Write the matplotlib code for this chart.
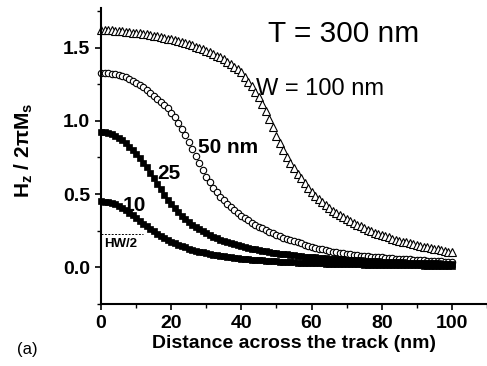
import numpy as np
import matplotlib
matplotlib.use('Agg')
import matplotlib.pyplot as plt

plt.rcParams['font.family'] = ['Liberation Sans', 'DejaVu Sans']

# distance across the track (nm), one point per nm
distance = np.arange(0, 101)

# Hz / 2piMs for the four track widths
w100 = [1.620, 1.620, 1.619, 1.618, 1.616, 1.614, 1.612, 1.609, 1.606, 1.603,
        1.600, 1.597, 1.594, 1.590, 1.586, 1.582, 1.577, 1.572, 1.567, 1.562,
        1.556, 1.550, 1.544, 1.537, 1.530, 1.523, 1.515, 1.507, 1.498, 1.489,
        1.479, 1.469, 1.458, 1.446, 1.434, 1.420, 1.405, 1.389, 1.371, 1.352,
        1.331, 1.300, 1.265, 1.235, 1.200, 1.160, 1.115, 1.065, 1.010, 0.955,
        0.900, 0.848, 0.800, 0.755, 0.714, 0.675, 0.640, 0.607, 0.577, 0.545,
        0.515, 0.490, 0.466, 0.444, 0.424, 0.405, 0.388, 0.372, 0.357, 0.343,
        0.329, 0.316, 0.304, 0.292, 0.280, 0.267, 0.257, 0.247, 0.237, 0.228,
        0.220, 0.212, 0.204, 0.196, 0.189, 0.182, 0.176, 0.170, 0.164, 0.158,
        0.152, 0.147, 0.142, 0.137, 0.132, 0.127, 0.122, 0.117, 0.112, 0.107,
        0.102]
w50 = [1.330, 1.329, 1.327, 1.323, 1.318, 1.312, 1.305, 1.296, 1.286, 1.274,
       1.260, 1.245, 1.228, 1.209, 1.190, 1.170, 1.150, 1.130, 1.110, 1.085,
       1.057, 1.025, 0.988, 0.947, 0.902, 0.855, 0.806, 0.757, 0.709, 0.663,
       0.620, 0.580, 0.544, 0.512, 0.483, 0.457, 0.433, 0.411, 0.391, 0.372,
       0.353, 0.336, 0.320, 0.305, 0.291, 0.278, 0.266, 0.254, 0.243, 0.232,
       0.222, 0.212, 0.203, 0.194, 0.186, 0.178, 0.170, 0.163, 0.156, 0.149,
       0.140, 0.134, 0.128, 0.122, 0.117, 0.112, 0.108, 0.104, 0.100, 0.096,
       0.093, 0.090, 0.087, 0.084, 0.081, 0.079, 0.076, 0.074, 0.072, 0.070,
       0.068, 0.066, 0.064, 0.062, 0.060, 0.059, 0.057, 0.056, 0.054, 0.052,
       0.050, 0.049, 0.048, 0.046, 0.045, 0.044, 0.042, 0.041, 0.040, 0.038,
       0.037]
w25 = [0.925, 0.923, 0.918, 0.910, 0.899, 0.885, 0.868, 0.848, 0.825, 0.800,
       0.772, 0.745, 0.715, 0.682, 0.646, 0.608, 0.570, 0.532, 0.495, 0.462,
       0.431, 0.402, 0.375, 0.351, 0.329, 0.309, 0.291, 0.274, 0.259, 0.245,
       0.232, 0.220, 0.209, 0.199, 0.189, 0.180, 0.172, 0.164, 0.157, 0.150,
       0.144, 0.138, 0.132, 0.127, 0.122, 0.117, 0.113, 0.109, 0.105, 0.101,
       0.097, 0.094, 0.091, 0.088, 0.085, 0.082, 0.079, 0.077, 0.074, 0.072,
       0.070, 0.068, 0.066, 0.064, 0.062, 0.060, 0.058, 0.057, 0.055, 0.054,
       0.052, 0.051, 0.049, 0.048, 0.047, 0.045, 0.044, 0.043, 0.042, 0.041,
       0.040, 0.039, 0.038, 0.037, 0.036, 0.035, 0.034, 0.033, 0.032, 0.032,
       0.031, 0.030, 0.029, 0.029, 0.028, 0.027, 0.027, 0.026, 0.025, 0.025,
       0.024]
w10 = [0.450, 0.449, 0.446, 0.441, 0.434, 0.422, 0.405, 0.390, 0.373, 0.355,
       0.336, 0.317, 0.298, 0.280, 0.262, 0.245, 0.229, 0.214, 0.200, 0.187,
       0.175, 0.164, 0.154, 0.145, 0.136, 0.128, 0.121, 0.114, 0.108, 0.102,
       0.097, 0.092, 0.087, 0.083, 0.079, 0.075, 0.072, 0.069, 0.066, 0.063,
       0.060, 0.058, 0.055, 0.053, 0.051, 0.049, 0.047, 0.045, 0.044, 0.042,
       0.041, 0.039, 0.038, 0.037, 0.035, 0.034, 0.033, 0.032, 0.031, 0.030,
       0.029, 0.028, 0.027, 0.027, 0.026, 0.025, 0.024, 0.024, 0.023, 0.022,
       0.022, 0.021, 0.021, 0.020, 0.020, 0.019, 0.019, 0.018, 0.018, 0.017,
       0.017, 0.016, 0.016, 0.016, 0.015, 0.015, 0.014, 0.014, 0.014, 0.013,
       0.013, 0.013, 0.012, 0.012, 0.012, 0.011, 0.011, 0.011, 0.011, 0.010,
       0.010]

half_width = 0.225   # HW/2 of the W = 10 nm curve
half_width_end = 12

fig = plt.figure(figsize=(4.87, 3.66), dpi=100)
ax = fig.add_axes([0.2074, 0.1694, 0.7926, 0.8086])

ax.plot(distance, w100, ls='none', marker='^', ms=5.8, mfc='white', mec='black', mew=0.8, clip_on=False)
ax.plot(distance, w50, ls='none', marker='o', ms=4.6, mfc='white', mec='black', mew=0.8, clip_on=False)
ax.plot(distance, w25, ls='none', marker='s', ms=4.8, mfc='black', mec='black', mew=0.5, clip_on=False)
ax.plot(distance, w10, ls='none', marker='s', ms=4.8, mfc='black', mec='black', mew=0.5, clip_on=False)

ax.plot([0, half_width_end], [half_width, half_width], color='black', lw=0.7, ls=(0, (2, 1.5)))
ax.text(1, 0.20, 'HW/2', fontsize=9.5, fontweight='bold', va='top', ha='left')

ax.set_xlim(0, 110)
ax.set_ylim(-0.25, 1.77)
ax.set_xticks([0, 20, 40, 60, 80, 100])
ax.set_xticks([10, 30, 50, 70, 90, 110], minor=True)
ax.set_yticks([0.0, 0.5, 1.0, 1.5])
ax.set_yticks([-0.25, 0.25, 0.75, 1.25, 1.75], minor=True)
ax.set_yticklabels(['0.0', '0.5', '1.0', '1.5'])

for side in ['top', 'right']:
    ax.spines[side].set_visible(False)
for side in ['left', 'bottom']:
    ax.spines[side].set_linewidth(1.5)

ax.tick_params(which='major', direction='out', length=4, width=1.2, labelsize=14, pad=4)
ax.tick_params(which='minor', direction='out', length=3, width=1.0)
for lab in ax.get_xticklabels() + ax.get_yticklabels():
    lab.set_fontweight('bold')

ax.set_xlabel('Distance across the track (nm)', fontsize=14, fontweight='bold', labelpad=2)
ax.set_ylabel('H$_\\mathregular{z}$ / 2πM$_\\mathregular{s}$', fontsize=15, fontweight='bold')
ax.yaxis.set_label_coords(-0.172, 0.52)

ax.text(69, 1.59, 'T = 300 nm', fontsize=21.5, ha='center', va='center')
ax.text(44.2, 1.22, 'W = 100 nm', fontsize=17, ha='left', va='center')
ax.text(27.5, 0.82, '50 nm', fontsize=15, fontweight='bold', ha='left', va='center')
ax.text(16, 0.64, '25', fontsize=15, fontweight='bold', ha='left', va='center')
ax.text(6.2, 0.42, '10', fontsize=15, fontweight='bold', ha='left', va='center')

fig.text(0.035, 0.045, '(a)', fontsize=12, ha='left', va='center')

fig.savefig('out.png', dpi=100)
